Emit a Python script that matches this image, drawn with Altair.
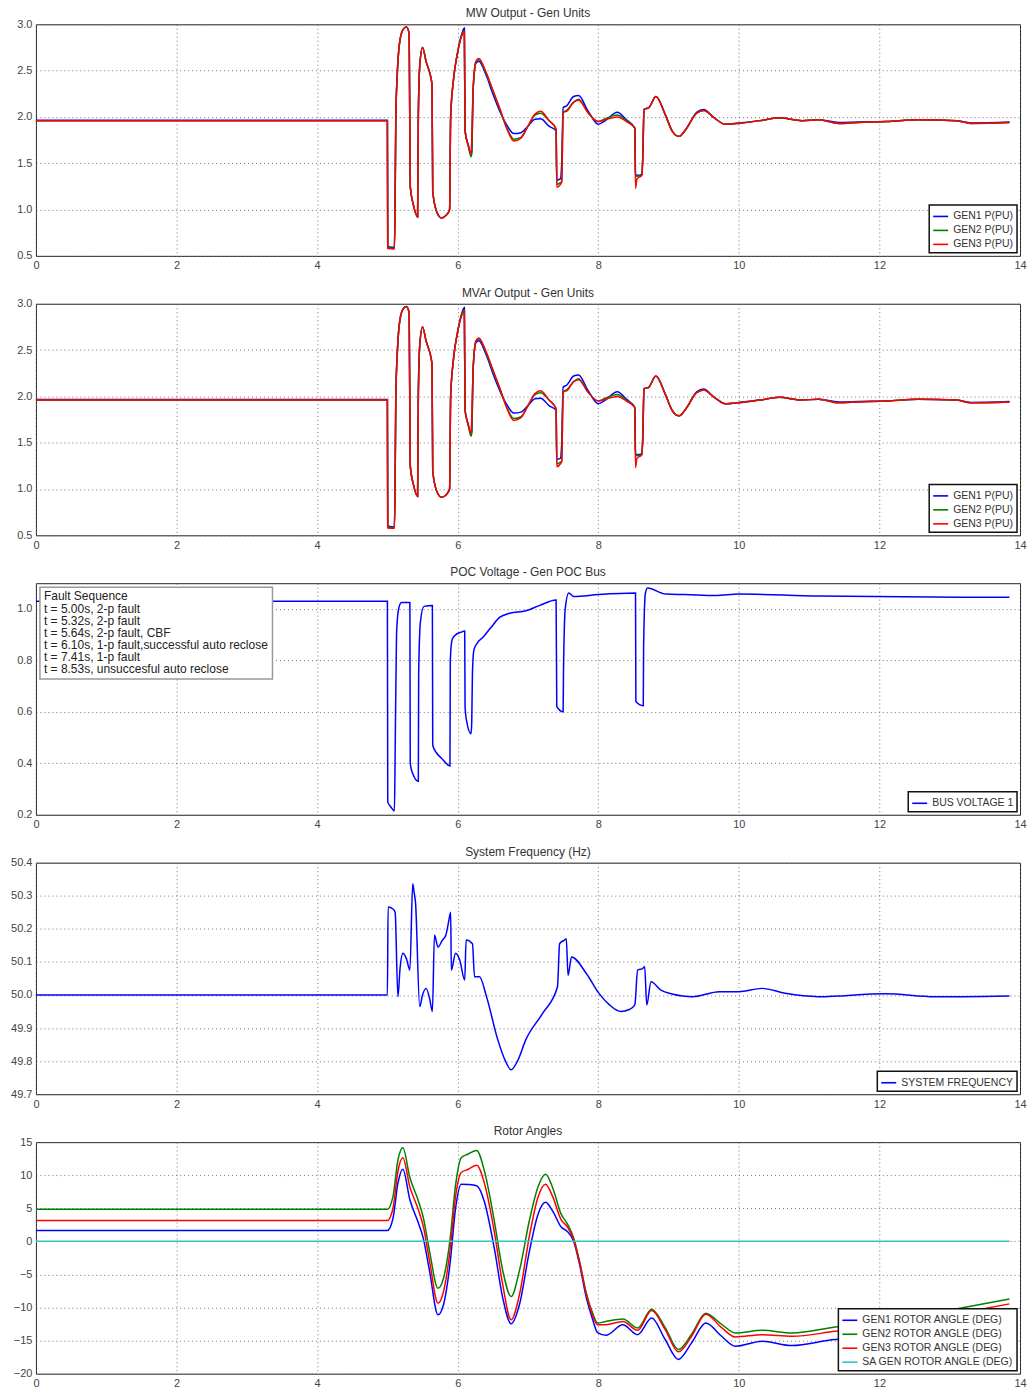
import altair as alt
import pandas as pd

FONT = "Liberation Sans"

# ---------------- MW / MVAr output (per unit) ----------------
p_t = [0.00, 5.000, 5.005, 5.100, 5.110, 5.120, 5.140, 5.170, 5.220, 5.270, 5.310, 5.325, 5.370, 5.430,
       5.440, 5.460, 5.500, 5.550, 5.635, 5.645, 5.700, 5.770, 5.840, 5.885, 5.900, 5.940, 6.000, 6.060,
       6.095, 6.105, 6.150, 6.190, 6.200, 6.220, 6.260, 6.300, 6.400, 6.500, 6.600, 6.700, 6.800, 6.900,
       7.000, 7.100, 7.180, 7.300, 7.400, 7.410, 7.460, 7.480, 7.500, 7.550, 7.650, 7.720, 7.850, 8.000,
       8.100, 8.270, 8.400, 8.520, 8.530, 8.550, 8.620, 8.635, 8.650, 8.720, 8.820, 8.950, 9.050, 9.150,
       9.250, 9.400, 9.500, 9.650, 9.810, 10.00, 10.30, 10.57, 10.90, 11.13, 11.42, 11.70, 12.10, 12.55,
       13.10, 13.30, 13.85]
p_gen1 = [1.965, 1.965, 0.600, 0.590, 1.100, 2.000, 2.450, 2.780, 2.940, 2.970, 2.900, 1.250, 1.050, 0.920,
          2.000, 2.550, 2.750, 2.600, 2.350, 1.200, 0.980, 0.910, 0.940, 1.000, 2.000, 2.400, 2.700, 2.900,
          2.960, 1.850, 1.700, 1.600, 1.620, 2.300, 2.580, 2.600, 2.460, 2.250, 2.060, 1.910, 1.820, 1.830,
          1.900, 1.975, 1.980, 1.900, 1.850, 1.320, 1.330, 1.500, 2.100, 2.120, 2.220, 2.230, 2.070, 1.920,
          1.960, 2.050, 1.970, 1.880, 1.380, 1.370, 1.380, 1.600, 2.080, 2.100, 2.220, 2.030, 1.850, 1.790,
          1.870, 2.050, 2.080, 1.990, 1.920, 1.935, 1.960, 1.990, 1.960, 1.970, 1.940, 1.945, 1.950, 1.970,
          1.960, 1.935, 1.945]
p_gen2 = [1.960, 1.960, 0.590, 0.580, 1.100, 2.000, 2.450, 2.780, 2.940, 2.970, 2.900, 1.250, 1.050, 0.920,
          2.000, 2.550, 2.750, 2.600, 2.350, 1.200, 0.980, 0.910, 0.940, 1.000, 2.000, 2.400, 2.700, 2.890,
          2.930, 1.850, 1.690, 1.570, 1.600, 2.300, 2.600, 2.620, 2.480, 2.280, 2.080, 1.880, 1.760, 1.780,
          1.900, 2.020, 2.040, 1.960, 1.870, 1.270, 1.290, 1.300, 2.050, 2.070, 2.160, 2.190, 2.050, 1.950,
          1.980, 2.020, 1.960, 1.880, 1.360, 1.360, 1.370, 1.600, 2.080, 2.100, 2.220, 2.030, 1.850, 1.790,
          1.870, 2.040, 2.070, 1.990, 1.920, 1.930, 1.960, 1.990, 1.960, 1.970, 1.930, 1.940, 1.950, 1.970,
          1.960, 1.930, 1.940]
p_gen3 = [1.960, 1.960, 0.580, 0.575, 1.100, 2.000, 2.450, 2.780, 2.940, 2.970, 2.900, 1.250, 1.050, 0.920,
          2.000, 2.550, 2.750, 2.600, 2.350, 1.200, 0.980, 0.910, 0.940, 1.000, 2.000, 2.400, 2.700, 2.880,
          2.920, 1.850, 1.690, 1.600, 1.750, 2.300, 2.600, 2.630, 2.490, 2.290, 2.090, 1.870, 1.740, 1.770,
          1.900, 2.030, 2.060, 1.960, 1.870, 1.240, 1.270, 1.300, 2.050, 2.060, 2.160, 2.180, 2.050, 1.950,
          1.970, 2.000, 1.950, 1.880, 1.230, 1.330, 1.370, 1.600, 2.080, 2.100, 2.220, 2.030, 1.850, 1.790,
          1.870, 2.040, 2.070, 1.990, 1.920, 1.930, 1.960, 1.990, 1.960, 1.970, 1.930, 1.940, 1.950, 1.970,
          1.960, 1.930, 1.940]
p_names = ["GEN1 P(PU)", "GEN2 P(PU)", "GEN3 P(PU)"]

# ---------------- POC voltage ----------------
v_t = [0.00, 5.000, 5.005, 5.050, 5.100, 5.110, 5.130, 5.160, 5.200, 5.320, 5.325, 5.360, 5.440, 5.445,
       5.470, 5.520, 5.640, 5.645, 5.700, 5.770, 5.890, 5.895, 5.920, 5.960, 6.050, 6.100, 6.105, 6.130,
       6.190, 6.200, 6.210, 6.230, 6.260, 6.360, 6.480, 6.600, 6.740, 6.970, 7.160, 7.400, 7.410, 7.500,
       7.505, 7.530, 7.580, 7.650, 8.010, 8.530, 8.535, 8.640, 8.645, 8.670, 8.700, 8.960, 9.240, 9.670,
       10.00, 11.13, 13.85]
v_bus = [1.030, 1.030, 0.250, 0.230, 0.215, 0.430, 0.900, 1.000, 1.025, 1.025, 0.400, 0.360, 0.330, 0.750,
         0.950, 1.010, 1.013, 0.470, 0.440, 0.420, 0.390, 0.800, 0.880, 0.897, 0.910, 0.914, 0.620, 0.560,
         0.515, 0.560, 0.750, 0.840, 0.860, 0.890, 0.930, 0.968, 0.983, 0.993, 1.013, 1.035, 0.620, 0.600,
         0.750, 1.000, 1.062, 1.048, 1.056, 1.062, 0.640, 0.624, 0.850, 1.060, 1.081, 1.058, 1.056, 1.052,
         1.058, 1.050, 1.045]
v_name = "BUS VOLTAGE 1"

fault_times = [5.00, 5.32, 5.64, 6.10, 7.41, 8.53]
fault_labels = ["t = 5.00s, 2-p fault", "t = 5.32s, 2-p fault", "t = 5.64s, 2-p fault, CBF",
                "t = 6.10s, 1-p fault,successful auto reclose", "t = 7.41s, 1-p fault",
                "t = 8.53s, unsuccesful auto reclose"]

# ---------------- System frequency ----------------
f_t = [0.00, 5.00, 5.01, 5.08, 5.11, 5.15, 5.18, 5.22, 5.27, 5.32, 5.36, 5.38, 5.40, 5.46, 5.50, 5.55,
       5.60, 5.64, 5.67, 5.72, 5.78, 5.83, 5.87, 5.90, 5.91, 5.97, 6.03, 6.10, 6.12, 6.21, 6.24, 6.31,
       6.41, 6.57, 6.68, 6.76, 6.85, 6.97, 7.21, 7.42, 7.45, 7.52, 7.545, 7.57, 7.62, 7.83, 8.01, 8.16,
       8.32, 8.44, 8.52, 8.56, 8.63, 8.66, 8.69, 8.75, 8.89, 9.05, 9.20, 9.34, 9.72, 10.0, 10.33, 10.66,
       11.13, 12.08, 12.79, 13.2, 13.85]
f_hz = [50.0, 50.0, 50.266, 50.26, 50.25, 49.995, 50.08, 50.126, 50.11, 50.075, 50.336, 50.31, 50.28,
        49.965, 50.0, 50.02, 49.99, 49.95, 50.181, 50.145, 50.165, 50.18, 50.22, 50.25, 50.075, 50.126,
        50.105, 50.045, 50.166, 50.155, 50.055, 50.055, 49.995, 49.865, 49.80, 49.774, 49.80, 49.865,
        49.945, 50.025, 50.155, 50.166, 50.17, 50.06, 50.115, 50.065, 50.005, 49.97, 49.95, 49.956,
        49.97, 50.075, 50.08, 50.085, 49.97, 50.04, 50.015, 50.003, 49.997, 49.995, 50.01, 50.01, 50.02,
        50.005, 49.995, 50.004, 49.995, 49.995, 49.997]
f_name = "SYSTEM FREQUENCY"

# ---------------- Rotor angles ----------------
r_t = [0, 5.0, 5.08, 5.15, 5.22, 5.32, 5.44, 5.51, 5.60, 5.72, 5.80, 5.89, 5.97, 6.05, 6.15, 6.27, 6.38,
       6.52, 6.64, 6.76, 6.88, 7.02, 7.14, 7.25, 7.35, 7.47, 7.56, 7.65, 7.73, 7.83, 7.92, 7.99, 8.11,
       8.35, 8.56, 8.76, 8.95, 9.14, 9.33, 9.53, 9.75, 9.95, 10.33, 10.76, 11.37, 12.32, 13.03, 13.85]
r_gen1 = [1.65, 1.65, 3.5, 8.8, 10.9, 6.3, 2.8, 0.5, -4.5, -11.1, -9.5, -3.5, 5.0, 8.65, 8.6, 8.4, 6.0,
          -1.0, -8.5, -12.45, -9.5, -1.5, 4.0, 5.9, 4.6, 2.2, 1.5, 0.0, -3.3, -8.5, -11.8, -13.8, -14.2,
          -12.6, -14.1, -11.6, -14.8, -17.85, -15.3, -12.35, -14.3, -15.85, -15.1, -15.75, -14.85, -14.5,
          -13.6, -12.6]
r_gen2 = [4.85, 4.85, 6.8, 12.3, 14.15, 9.65, 6.15, 3.65, -1.5, -7.1, -5.5, 0.15, 8.5, 12.65, 13.2, 13.75,
          10.65, 3.15, -4.35, -8.35, -4.35, 3.15, 8.15, 10.15, 8.15, 4.15, 2.65, 0.5, -2.85, -7.85, -10.85,
          -12.35, -12.1, -11.75, -13.1, -10.25, -13.0, -16.35, -14.0, -10.85, -12.5, -13.85, -13.45, -13.85,
          -12.95, -11.75, -10.35, -8.7]
r_gen3 = [3.15, 3.15, 5.0, 10.6, 12.65, 8.2, 4.8, 2.3, -3.0, -9.35, -7.5, -1.5, 6.8, 10.4, 10.9, 11.5, 8.8,
          1.5, -6.5, -11.85, -8.0, 0.8, 6.6, 8.65, 6.8, 3.3, 2.2, 0.3, -3.0, -8.0, -11.2, -12.6, -12.6,
          -12.1, -13.45, -10.45, -13.3, -16.7, -14.3, -11.0, -13.0, -14.45, -14.1, -14.35, -13.6, -12.45,
          -11.1, -9.45]
r_sa_t = [0.0, 13.85]
r_sa = [0.0, 0.0]
r_names = ["GEN1 ROTOR ANGLE (DEG)", "GEN2 ROTOR ANGLE (DEG)", "GEN3 ROTOR ANGLE (DEG)",
           "SA GEN ROTOR ANGLE (DEG)"]

x_ticks = [0, 2, 4, 6, 8, 10, 12, 14]
C_BLUE, C_GREEN, C_RED, C_CYAN = "#0000ff", "#008000", "#ff0000", "#33c4c4"

# ---------------- tables ----------------
def long(ts, series, names):
    rows = []
    for vals, name in zip(series, names):
        for t, v in zip(ts, vals):
            rows.append({"t": t, "v": v, "s": name})
    return pd.DataFrame(rows)

df_p = long(p_t, [p_gen1, p_gen2, p_gen3], p_names)
df_v = long(v_t, [v_bus], [v_name])
df_f = long(f_t, [f_hz], [f_name])
df_r = pd.concat([long(r_t, [r_gen1, r_gen2, r_gen3], r_names[:3]),
                  long(r_sa_t, [r_sa], [r_names[3]])], ignore_index=True)
df_fault = pd.DataFrame({"t": fault_times, "v": [1.0] * len(fault_times), "label": fault_labels})

W, H = 986, 232


def xenc():
    return alt.X("t:Q", scale=alt.Scale(domain=[0, 14], nice=False, zero=False),
                 axis=alt.Axis(values=x_ticks, format="d", title=None, labelFlush=False))


def yenc(domain, values, fmt):
    return alt.Y("v:Q", scale=alt.Scale(domain=domain, nice=False, zero=False),
                 axis=alt.Axis(values=values, format=fmt, title=None))


def legend_lr():
    return alt.Legend(title=None, orient="bottom-right", offset=3, symbolType="stroke",
                      symbolSize=225, symbolStrokeWidth=1.6, labelFontSize=10.5, labelColor="#333",
                      strokeColor="#111", fillColor="white", padding=3, rowPadding=0, labelLimit=300)


def ttl(text, off="-2"):
    return alt.Title(text, frame="group", offset={"expr": off})


def line_chart(df, names, colors, domain, values, fmt, title, interp="monotone"):
    return alt.Chart(df, title=ttl(title)).mark_line(strokeWidth=1.5, interpolate=interp).encode(
        x=xenc(), y=yenc(domain, values, fmt),
        color=alt.Color("s:N", scale=alt.Scale(domain=names, range=colors), legend=legend_lr()),
    ).properties(width=W, height=H)


c1 = line_chart(df_p, p_names, [C_BLUE, C_GREEN, C_RED], [0.5, 3.0],
                [0.5, 1.0, 1.5, 2.0, 2.5, 3.0], ".1f", "MW Output - Gen Units")
c2 = line_chart(df_p, p_names, [C_BLUE, C_GREEN, C_RED], [0.5, 3.0],
                [0.5, 1.0, 1.5, 2.0, 2.5, 3.0], ".1f", "MVAr Output - Gen Units")

v_line = alt.Chart(df_v).mark_line(strokeWidth=1.5, interpolate="monotone").encode(
    x=xenc(), y=yenc([0.2, 1.1], [0.2, 0.4, 0.6, 0.8, 1.0], ".1f"),
    color=alt.Color("s:N", scale=alt.Scale(domain=[v_name], range=[C_BLUE]), legend=legend_lr()),
)
v_fault = alt.Chart(df_fault).mark_point(opacity=0, size=0).encode(
    x="t:Q", y="v:Q",
    shape=alt.Shape("label:N", sort=fault_labels,
                    scale=alt.Scale(domain=fault_labels, range=["circle"] * 6),
                    legend=alt.Legend(title="Fault Sequence", orient="top-left", offset=4,
                                      symbolSize=0, symbolOpacity=0, symbolStrokeWidth=0,
                                      labelOffset={"expr": "-12"}, labelFontSize=12,
                                      labelColor="#222",
                                      titleFontSize=12, titleFontWeight="normal", titleColor="#222",
                                      titlePadding=0, strokeColor="#999", fillColor="white",
                                      padding=4, rowPadding=0, labelLimit=400)),
)
c3 = alt.layer(v_line, v_fault, title=ttl("POC Voltage - Gen POC Bus", "4.5")).properties(
    width=W, height=H)

c4 = line_chart(df_f, [f_name], [C_BLUE], [49.7, 50.4],
                [49.7, 49.8, 49.9, 50.0, 50.1, 50.2, 50.3, 50.4], ".1f", "System Frequency (Hz)")

c5 = line_chart(df_r, r_names, [C_BLUE, C_GREEN, C_RED, C_CYAN], [-20, 15],
                [-20, -15, -10, -5, 0, 5, 10, 15], "d", "Rotor Angles")

chart = alt.vconcat(c1, c2, c3, c4, c5, spacing=14).resolve_scale(
    color="independent", shape="independent").resolve_legend(
    color="independent", shape="independent").properties(
    padding={"left": 5, "top": 5, "right": 2, "bottom": 0}
).configure(font=FONT).configure_view(
    stroke="#222", strokeWidth=1
).configure_axis(
    grid=True, gridColor="#666", gridDash=[1, 3], gridWidth=1, gridOpacity=0.9,
    labelFont=FONT, labelFontSize=11, labelColor="#444", ticks=False, domain=False,
    labelPadding=4
).configure_axisX(
    minExtent=14, maxExtent=14
).configure_axisY(
    minExtent=30, maxExtent=30
).configure_title(
    font=FONT, fontSize=12, fontWeight="normal", color="#333"
).configure_legend(
    labelFont=FONT, titleFont=FONT, cornerRadius=0, strokeWidth=1.5
)

chart.save("out.html", embed_options={"renderer": "svg", "actions": False})
